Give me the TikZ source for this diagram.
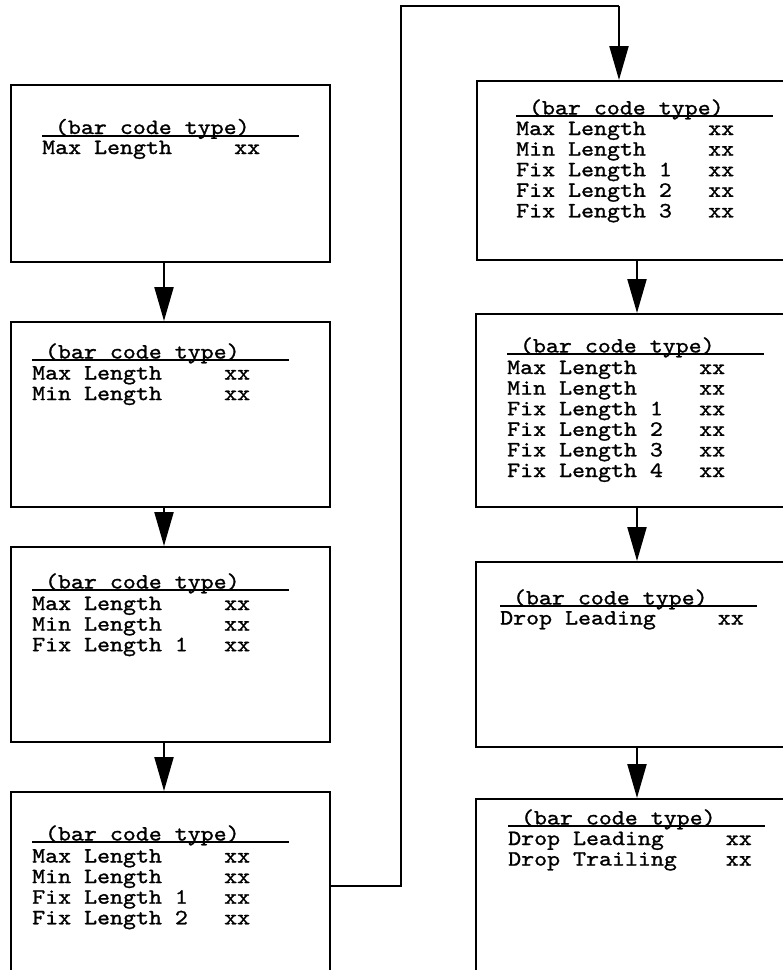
\documentclass[tikz,border=0pt]{standalone}
\usepackage{fontspec}
\newfontfamily\boxfont{lmmono10-regular.otf}[FakeStretch=1.134,FakeBold=1.1]
\usetikzlibrary{arrows.meta}
\tikzset{
  box/.style={draw, line width=1.8pt, anchor=north west, inner sep=0pt},
  txt/.style={anchor=base west, inner sep=0pt, font=\boxfont\fontsize{21.8}{20.6}\selectfont},
  uline/.style={line width=2pt},
  arr/.style={line width=2.2pt, -{Triangle[width=19pt,length=34pt]}},
  conn/.style={line width=2pt}
}
\newcommand{\hdr}{(bar code type)}
\begin{document}
\begin{tikzpicture}[x=1pt,y=-1pt]
\useasboundingbox (0,0) rectangle (783,970);
\clip (0,0) rectangle (783,970);
% boxes
\node[box, minimum width=319pt, minimum height=177pt] (b1) at (10,84) {};
\node[box, minimum width=319pt, minimum height=185pt] (b2) at (10,321) {};
\node[box, minimum width=319pt, minimum height=195pt] (b3) at (10,546) {};
\node[box, minimum width=319pt, minimum height=250pt] (b4) at (10,791) {};
\node[box, minimum width=400pt, minimum height=179pt] (b5) at (476,80) {};
\node[box, minimum width=400pt, minimum height=193pt] (b6) at (475,313) {};
\node[box, minimum width=400pt, minimum height=185pt] (b7) at (475,561) {};
\node[box, minimum width=400pt, minimum height=250pt] (b8) at (475,798) {};
% box 1
\node[txt] (h1) at (54.8,134) {\hdr};
\draw[uline] (42,135.7) -- ++(257,0);
\node[txt] (t1) at (42,154) {\begin{tabular}[t]{@{}p{192pt}@{}l@{}}Max Length & xx\end{tabular}};
% box 2
\node[txt] (h2) at (44.8,358.5) {\hdr};
\draw[uline] (32,360) -- ++(257,0);
\node[txt] (t2) at (32,379.5) {\begin{tabular}[t]{@{}p{192pt}@{}l@{}}Max Length & xx\\ Min Length & xx\end{tabular}};
% box 3
\node[txt] (h3) at (44.8,588.5) {\hdr};
\draw[uline] (32,590) -- ++(257,0);
\node[txt] (t3) at (32,610) {\begin{tabular}[t]{@{}p{192pt}@{}l@{}}Max Length & xx\\ Min Length & xx\\ Fix Length 1 & xx\end{tabular}};
% box 4
\node[txt] (h4) at (44.8,840.5) {\hdr};
\draw[uline] (32,842) -- ++(257,0);
\node[txt] (t4) at (32,862.5) {\begin{tabular}[t]{@{}p{192pt}@{}l@{}}Max Length & xx\\ Min Length & xx\\ Fix Length 1 & xx\\ Fix Length 2 & xx\end{tabular}};
% box 5
\node[txt] (h5) at (528.8,114.5) {\hdr};
\draw[uline] (516,116) -- ++(257,0);
\node[txt] (t5) at (516,135) {\begin{tabular}[t]{@{}p{192pt}@{}l@{}}Max Length & xx\\ Min Length & xx\\ Fix Length 1 & xx\\ Fix Length 2 & xx\\ Fix Length 3 & xx\end{tabular}};
% box 6
\node[txt] (h6) at (519.8,352.5) {\hdr};
\draw[uline] (507,354) -- ++(257,0);
\node[txt] (t6) at (507,374) {\begin{tabular}[t]{@{}p{192pt}@{}l@{}}Max Length & xx\\ Min Length & xx\\ Fix Length 1 & xx\\ Fix Length 2 & xx\\ Fix Length 3 & xx\\ Fix Length 4 & xx\end{tabular}};
% box 7
\node[txt] (h7) at (512.8,604.5) {\hdr};
\draw[uline] (500,606) -- ++(257,0);
\node[txt] (t7) at (500,624.5) {\begin{tabular}[t]{@{}p{217.6pt}@{}l@{}}Drop Leading & xx\end{tabular}};
% box 8
\node[txt] (h8) at (520.8,824.5) {\hdr};
\draw[uline] (508,826) -- ++(257,0);
\node[txt] (t8) at (508,845) {\begin{tabular}[t]{@{}p{217.6pt}@{}l@{}}Drop Leading & xx\\ Drop Trailing & xx\end{tabular}};
% arrows
\coordinate (colL) at (164,0);
\coordinate (colR) at (637,0);
\draw[arr] (b1.south -| colL) -- (b2.north -| colL);
\draw[arr] (b2.south -| colL) -- (b3.north -| colL);
\draw[arr] (b3.south -| colL) -- (b4.north -| colL);
\draw[arr] (b5.south -| colR) -- (b6.north -| colR);
\draw[arr] (b6.south -| colR) -- (b7.north -| colR);
\draw[arr] (b7.south -| colR) -- (b8.north -| colR);
% long connector
\coordinate (turnA) at (401,886);
\coordinate (turnB) at (401,6);
\coordinate (turnC) at (619,6);
\draw[conn] (b4.east |- turnA) -- (turnA) -- (turnB) -- (turnC);
\draw[arr] (turnC) -- (b5.north -| turnC);
\end{tikzpicture}
\end{document}
